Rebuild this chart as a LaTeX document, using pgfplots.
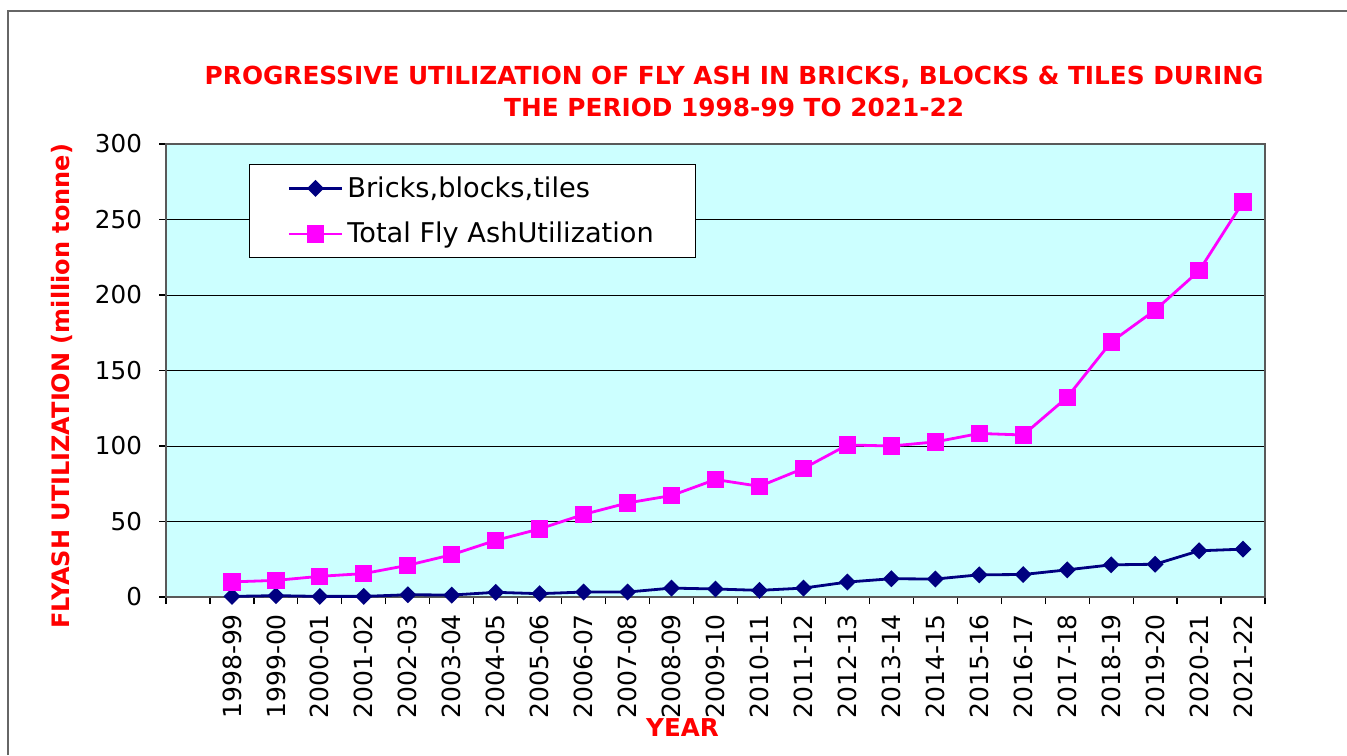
\documentclass[border=0pt]{standalone}
\usepackage{fontspec}
\setmainfont{DejaVu Sans}
\usepackage{pgfplots}
\pgfplotsset{compat=1.18}
\definecolor{bgcyan}{HTML}{CCFFFF}
\definecolor{navyline}{HTML}{000080}
\definecolor{magline}{HTML}{FF00FF}
\definecolor{titlered}{HTML}{FF0000}
\begin{document}
\begin{tikzpicture}
\useasboundingbox (0pt,0pt) rectangle (673.5pt,377.5pt);
\draw[gray!80!black, line width=1pt] (4pt,0pt) -- (4pt,372pt) -- (673.5pt,372pt);
\begin{axis}[
  at={(83pt,79pt)}, anchor=south west,
  scale only axis, width=549.5pt, height=226.5pt,
  xmin=-0.5, xmax=24.5, ymin=0, ymax=300,
  axis background/.style={fill=bgcyan},
  axis line style={gray!70!black, line width=0.8pt},
  tick align=outside,
  tick pos=left,
  major tick length=3.5pt,
  tick style={black, line width=0.6pt},
  ytick={0,50,...,300},
  ymajorgrids,
  grid style={black, line width=0.5pt},
  /pgf/number format/assume math mode=true,
  yticklabel style={font=\fontsize{12.3}{14}\selectfont, xshift=-5pt},
  xtick={-0.5,0.5,...,24.5},
  xticklabels={},
  extra x ticks={1,...,24},
  extra x tick labels={1998-99,1999-00,2000-01,2001-02,2002-03,2003-04,2004-05,2005-06,2006-07,2007-08,2008-09,2009-10,2010-11,2011-12,2012-13,2013-14,2014-15,2015-16,2016-17,2017-18,2018-19,2019-20,2020-21,2021-22},
  extra x tick style={major tick length=0pt},
  xticklabel style={font=\fontsize{12.5}{14}\selectfont, rotate=90, anchor=east, xshift=-5pt},
  title={PROGRESSIVE UTILIZATION OF FLY ASH IN BRICKS, BLOCKS \& TILES DURING\\THE PERIOD 1998-99 TO 2021-22},
  every axis title/.style={at={(axis description cs:0.517,1.117)}, anchor=center, align=center,
    font=\fontsize{12.4}{16}\selectfont\bfseries, text=titlered},
  xlabel={YEAR},
  every axis x label/.style={at={(axis description cs:0.470,-0.289)}, anchor=center,
    font=\fontsize{12.3}{14}\selectfont\bfseries, text=titlered},
  ylabel={FLYASH UTILIZATION (million tonne)},
  every axis y label/.style={at={(axis description cs:-0.0946,0.465)}, rotate=90, anchor=center,
    font=\fontsize{12}{14}\selectfont\bfseries, text=titlered},
  legend style={at={(axis description cs:0.0755,0.956)}, anchor=north west,
    draw=black, fill=white, line width=0.6pt,
    font=\fontsize{13.6}{16}\selectfont,
    inner xsep=19pt, inner ysep=4pt, row sep=7pt,
    nodes={inner sep=2pt}},
  legend cell align=left,
  legend image code/.code={\draw[mark repeat=2,mark phase=2,#1] plot coordinates {(0pt,0pt) (13.25pt,0pt) (26.5pt,0pt)};},
]
\addplot[navyline, line width=1.4pt, mark=square*, mark size=2.3pt, mark options={rotate=45, solid, fill=navyline}]
  coordinates {(1,0.4) (2,0.9) (3,0.4) (4,0.4) (5,1.5) (6,1.3) (7,3.1) (8,2.2) (9,3.3) (10,3.3) (11,5.9) (12,5.3) (13,4.4) (14,5.9) (15,9.9) (16,12.1) (17,11.9) (18,14.7) (19,14.9) (20,18.0) (21,21.3) (22,21.7) (23,30.6) (24,31.7)};
\addlegendentry{Bricks,blocks,tiles}
\addplot[magline, line width=1.4pt, mark=square*, mark size=3.6pt, mark options={solid, fill=magline}]
  coordinates {(1,10.0) (2,11.0) (3,13.7) (4,15.5) (5,21.0) (6,28.0) (7,37.5) (8,45.1) (9,54.7) (10,62.3) (11,67.2) (12,77.8) (13,73.3) (14,85.1) (15,100.7) (16,100.0) (17,102.7) (18,108.3) (19,107.3) (20,132.3) (21,168.9) (22,190.0) (23,216.0) (24,261.6)};
\addlegendentry{Total Fly AshUtilization}
\end{axis}
\end{tikzpicture}
\end{document}
